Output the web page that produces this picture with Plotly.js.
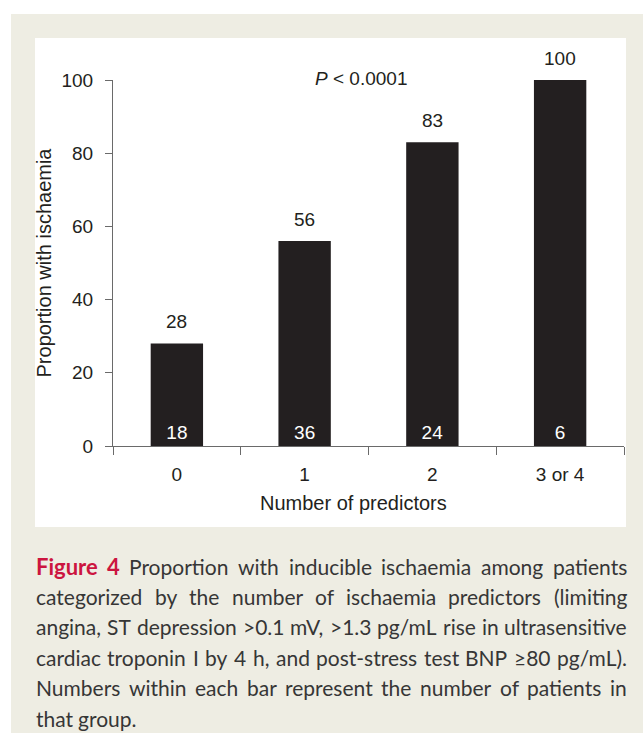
<!DOCTYPE html>
<html>
<head>
<meta charset="utf-8">
<script src="https://cdn.plot.ly/plotly-3.0.1.min.js"></script>
<style>html,body{margin:0;padding:0;background:#fff;}#chart{width:643px;height:733px;}</style>
</head>
<body>
<div id="chart"></div>
<script>
// ---- data ----
var categories = ['0', '1', '2', '3 or 4'];
var proportion = [28, 56, 83, 100];
var patients = [18, 36, 24, 6];
var yTickVals = [0, 20, 40, 60, 80, 100];
var pValueText = '<i>P</i> &lt; 0.0001';
var captionLines = [
  ['<b>Figure</b>', '<b>4</b>', 'Proportion', 'with', 'inducible', 'ischaemia', 'among', 'patients'],
  ['categorized', 'by', 'the', 'number', 'of', 'ischaemia', 'predictors', '(limiting'],
  ['angina,', 'ST', 'depression', '&gt;0.1', 'mV,', '&gt;1.3', 'pg/mL', 'rise', 'in', 'ultrasensitive'],
  ['cardiac', 'troponin', 'I', 'by', '4', 'h,', 'and', 'post-stress', 'test', 'BNP', '\u226580', 'pg/mL).'],
  ['Numbers', 'within', 'each', 'bar', 'represent', 'the', 'number', 'of', 'patients', 'in'],
  ['that', 'group.']
];

// ---- layout geometry (pixels) ----
var W = 643, H = 733;
var L = 113, R = 624, T = 80, B = 446;
function px(x) { return (x - L) / (R - L); }
function py(y) { return (B - y) / (B - T); }

var FONT = 'Liberation Sans, Arial, sans-serif';
var CAPFONT = 'Lato, Open Sans, sans-serif';
var CAPSIZE = 21;
var CAPBOLDSIZE = 22;
var TEXT = '#231f20';
var AX = '#6a6a6a';

var bars = {
  type: 'bar',
  x: categories,
  y: proportion,
  width: 0.41,
  marker: { color: '#231f20', line: { width: 0 } },
  text: patients.map(String),
  textposition: 'inside',
  insidetextanchor: 'start',
  textangle: 0,
  constraintext: 'none',
  insidetextfont: { family: FONT, size: 19, color: '#ffffff' },
  hoverinfo: 'x+y',
  showlegend: false
};

var annotations = [];
categories.forEach(function (c, i) {
  annotations.push({
    x: c, y: proportion[i], xref: 'x', yref: 'y',
    text: String(proportion[i]), showarrow: false,
    xanchor: 'center', yanchor: 'middle', yshift: 22,
    font: { family: FONT, size: 19, color: TEXT }
  });
});
annotations.push({
  x: px(361), y: py(78), xref: 'paper', yref: 'paper',
  text: pValueText, showarrow: false, xanchor: 'center', yanchor: 'middle',
  font: { family: FONT, size: 19, color: TEXT }
});
annotations.push({
  x: px(353), y: py(503), xref: 'paper', yref: 'paper',
  text: 'Number of predictors', showarrow: false, xanchor: 'center', yanchor: 'middle',
  font: { family: FONT, size: 20, color: TEXT }
});

// caption, justified by measuring words
var ctx = document.createElement('canvas').getContext('2d');
function strip(s) {
  return s.replace(/<[^>]+>/g, '').replace(/&gt;/g, '>').replace(/&lt;/g, '<');
}
function isBold(w) { return /<b>/.test(w); }
function wordWidth(w) {
  ctx.font = isBold(w) ? ('bold ' + CAPBOLDSIZE + 'px Lato') : (CAPSIZE + 'px Lato');
  return ctx.measureText(strip(w)).width;
}
ctx.font = CAPSIZE + 'px Lato';
var spaceW = ctx.measureText(' ').width;
var capLeft = 35, capRight = 626;
var lineY0 = 566, lineStep = 30.4;
captionLines.forEach(function (words, li) {
  var widths = words.map(wordWidth);
  var total = widths.reduce(function (a, b) { return a + b; }, 0);
  var last = li === captionLines.length - 1;
  var gap = last ? spaceW : (capRight - capLeft - total) / (words.length - 1);
  if (gap < spaceW * 0.6) gap = spaceW * 0.6;
  var xcur = capLeft;
  words.forEach(function (w, wi) {
    var bold = isBold(w);
    annotations.push({
      x: px(xcur), y: py(lineY0 + li * lineStep), xref: 'paper', yref: 'paper',
      text: w, showarrow: false, xanchor: 'left', yanchor: 'middle',
      borderpad: 0,
      font: { family: CAPFONT, size: bold ? CAPBOLDSIZE : CAPSIZE, color: bold ? '#cc1540' : '#363636', weight: bold ? 700 : 400 }
    });
    xcur += widths[wi] + gap;
  });
});

var shapes = [
  { type: 'rect', xref: 'paper', yref: 'paper', layer: 'below',
    x0: px(11), x1: px(W + 5), y0: py(H + 5), y1: py(14),
    fillcolor: '#eeede3', line: { width: 0 } },
  { type: 'rect', xref: 'paper', yref: 'paper', layer: 'below',
    x0: px(35), x1: px(626), y0: py(527), y1: py(38),
    fillcolor: '#ffffff', line: { width: 0 } }
];

var layout = {
  width: W, height: H,
  margin: { l: L, r: W - R, t: T, b: H - B, pad: 0 },
  paper_bgcolor: '#ffffff',
  plot_bgcolor: 'rgba(0,0,0,0)',
  showlegend: false,
  font: { family: FONT, color: TEXT },
  xaxis: {
    type: 'category', range: [-0.5, 3.5], fixedrange: true,
    showline: true, linecolor: AX, linewidth: 1,
    ticks: 'outside', tickson: 'boundaries', ticklen: 8, tickcolor: AX, tickwidth: 1,
    showgrid: false, zeroline: false,
    tickfont: { family: FONT, size: 19, color: TEXT },
    ticklabelstandoff: 11
  },
  yaxis: {
    range: [0, 100], fixedrange: true,
    tickvals: yTickVals, ticktext: yTickVals.map(String),
    showline: true, linecolor: AX, linewidth: 1,
    ticks: 'outside', ticklen: 7, tickcolor: AX, tickwidth: 1,
    showgrid: false, zeroline: false,
    tickfont: { family: FONT, size: 19, color: TEXT },
    ticklabelstandoff: 8,
    title: { text: 'Proportion with ischaemia', font: { family: FONT, size: 20, color: TEXT }, standoff: 4 }
  },
  annotations: annotations,
  shapes: shapes
};

Plotly.newPlot('chart', [bars], layout, { displayModeBar: false, staticPlot: true });
</script>
</body>
</html>
